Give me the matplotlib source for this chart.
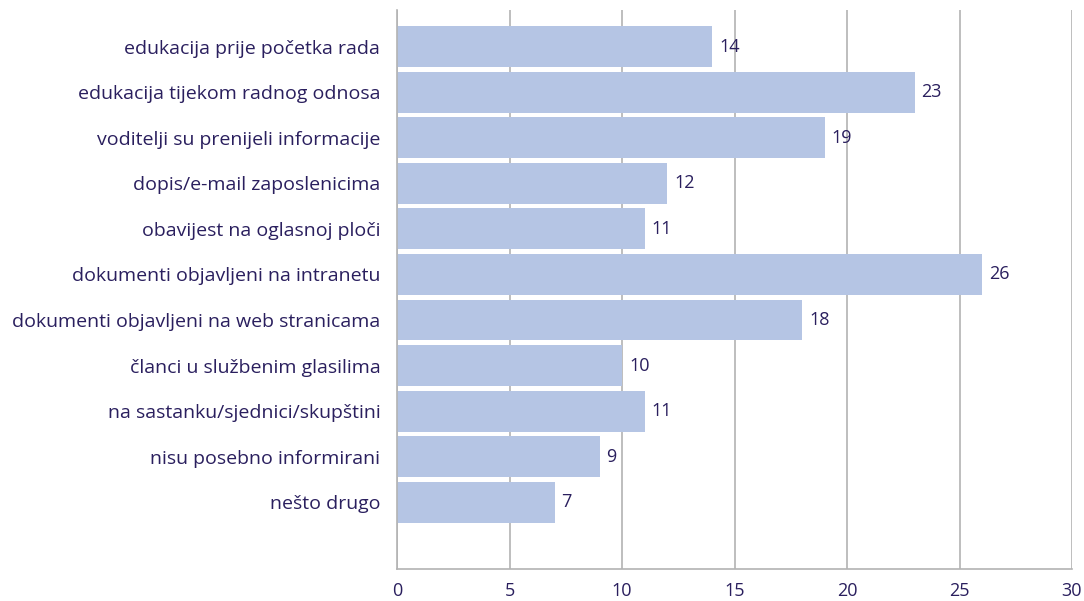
import numpy as np
import matplotlib.pyplot as plt

categories = [
    "edukacija prije početka rada",
    "edukacija tijekom radnog odnosa",
    "voditelji su prenijeli informacije",
    "dopis/e-mail zaposlenicima",
    "obavijest na oglasnoj ploči",
    "dokumenti objavljeni na intranetu",
    "dokumenti objavljeni na web stranicama",
    "članci u službenim glasilima",
    "na sastanku/sjednici/skupštini",
    "nisu posebno informirani",
    "nešto drugo",
]
values = [14, 23, 19, 12, 11, 26, 18, 10, 11, 9, 7]
x_ticks = [0, 5, 10, 15, 20, 25, 30]

text_color = "#2a1f5e"
bar_color = "#b5c5e4"
grid_color = "#b3b3b3"

plt.rcParams["font.family"] = ["Open Sans", "DejaVu Sans"]

fig = plt.figure(figsize=(10.84, 6.01), dpi=100)
ax = fig.add_axes([397 / 1084, 1 - 569 / 601, (1072 - 397) / 1084, (569 - 10) / 601])

y = np.arange(len(categories))
ax.barh(y, values, height=0.9, color=bar_color, zorder=2)

for yi, v in zip(y, values):
    ax.annotate(str(v), (v, yi), xytext=(5, 0), textcoords="offset points",
                va="center", ha="left", fontsize=13, color=text_color)

ax.set_xlim(0, 30)
ax.set_ylim(len(categories) - 1 + 1.47, -0.81)
ax.set_xticks(x_ticks)
ax.set_yticks(y)
ax.set_yticklabels(categories)
ax.tick_params(axis="y", length=0, pad=12, labelsize=14, labelcolor=text_color)
ax.tick_params(axis="x", length=0, pad=9, labelsize=13, labelcolor=text_color)

ax.grid(axis="x", color=grid_color, linewidth=1.2, zorder=1)
for s in ["top", "right"]:
    ax.spines[s].set_visible(False)
ax.spines["left"].set_color(grid_color)
ax.spines["bottom"].set_color(grid_color)
ax.spines["left"].set_linewidth(1.2)
ax.spines["bottom"].set_linewidth(1.2)

fig.savefig("out.png", dpi=100)
